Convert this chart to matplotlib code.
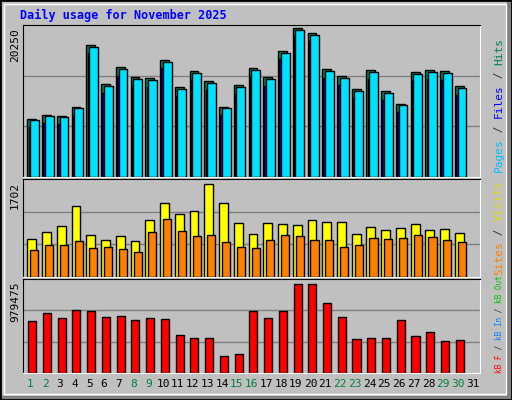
import matplotlib
matplotlib.use("Agg")
import matplotlib.pyplot as plt
from matplotlib.patches import Rectangle
import numpy as np

days = np.arange(1, 31)
hits = [7778, 8314, 8180, 9387, 17567, 12337, 14617, 13276, 13142, 15556,
        11935, 14081, 12740, 9387, 12203, 14483, 13276, 16763, 19847, 19176,
        14349, 13410, 11667, 14215, 11399, 9789, 13946, 14215, 14081, 12069]
files = [h - 1100 for h in hits]
pages = [h - 250 for h in hits]
visits = [660, 782, 886, 1233, 730, 643, 712, 625, 990, 1285, 1094, 1146, 1615, 1285, 938,
          747, 938, 921, 903, 990, 955, 955, 747, 868, 816, 851, 921, 816, 834, 764]
sites = [469, 556, 556, 625, 504, 521, 486, 434, 782, 1007, 799, 712, 729, 608, 521,
         504, 643, 729, 712, 643, 643, 521, 556, 677, 660, 677, 729, 695, 643, 608]
kbytes = [541840, 625200, 573100, 656460, 646040, 583520, 593940, 552260, 573100, 562680,
          395960, 364700, 364700, 177140, 197980, 646040, 573100, 646040, 927380, 927380,
          729400, 583520, 354280, 364700, 364700, 552260, 385540, 427220, 333440, 343860]
weekend = [1, 2, 8, 9, 15, 16, 22, 23, 29, 30]

W, H = 512, 400
BG = "#c0c0c0"
MONO = "DejaVu Sans Mono"
fig = plt.figure(figsize=(W / 100, H / 100), dpi=100, facecolor=BG)

# outer bevel
fig.patches.append(Rectangle((W - 5, 0), 5, H, transform=None, fc="#808080", ec="none"))
fig.patches.append(Rectangle((0, 0), W, 4, transform=None, fc="#808080", ec="none"))
fig.patches.append(Rectangle((0, 0), 1, 1, transform=fig.transFigure, fill=False, ec="black", lw=2))
fig.patches.append(Rectangle((4 / W, 6 / H), (W - 10) / W, (H - 10) / H, transform=fig.transFigure,
                             fill=False, ec="white", lw=1))


def panel(top, bottom, ymax):
    ax = fig.add_axes([23 / W, 1 - bottom / H, 457 / W, (bottom - top) / H])
    ax.set_facecolor(BG)
    ax.set_xlim(0.5, 31.5)
    ax.set_ylim(0, ymax)
    ax.set_xticks([])
    ax.set_yticks([])
    for y in (ymax / 3, 2 * ymax / 3):
        ax.axhline(y, color="#808080", lw=1, zorder=0)
    ax.spines["top"].set_color("black")
    ax.spines["left"].set_color("black")
    ax.spines["bottom"].set_color("white")
    ax.spines["right"].set_color("white")
    return ax


ax1 = panel(25, 177, 20250)
ax1.bar(days - 0.2, hits, width=0.6, align="edge", color="#00805c", ec="black", lw=1, zorder=2)
ax1.bar(days - 0.12, files, width=0.55, align="edge", color="#0000ff", ec="black", lw=1, zorder=3)
ax1.bar(days - 0.02, pages, width=0.6, align="edge", color="#00e0ff", ec="black", lw=1, zorder=4)

ax2 = panel(179, 277, 1702)
ax2.bar(days - 0.2, visits, width=0.6, align="edge", color="#ffff00", ec="black", lw=1, zorder=2)
ax2.bar(days - 0.0, sites, width=0.55, align="edge", color="#ff8000", ec="black", lw=1, zorder=3)

ax3 = panel(279, 373, 979475)
ax3.bar(days - 0.15, kbytes, width=0.55, align="edge", color="#ff0000", ec="black", lw=1, zorder=2)

for d in range(1, 32):
    ax3.text(d, -0.06, str(d), transform=ax3.get_xaxis_transform(), ha="center", va="top",
             fontsize=8, family=MONO, color="#008040" if d in weekend else "black")

fig.text(20 / W, 1 - 15 / H, "Daily usage for November 2025", fontsize=8.5, family=MONO,
         weight="bold", color="#0000ff", va="center")

# left max labels
for lab, top in (("20250", 28), ("1702", 182), ("979475", 281)):
    fig.text(15 / W, 1 - top / H, lab, rotation=90, ha="center", va="top", fontsize=8, family=MONO)


def right_label(parts, bottom_px, size):
    y = bottom_px
    step = size * 0.602 * 100 / 72
    for txt, col in parts:
        fig.text(499 / W, 1 - y / H, txt, rotation=90, ha="center", va="bottom",
                 fontsize=size, family=MONO, color=col)
        y -= len(txt) * step


right_label([("Pages", "#00c0ff"), (" / ", "#303030"), ("Files", "#0000ff"),
             (" / ", "#303030"), ("Hits", "#00805c")], 172, 8)
right_label([("Sites", "#ff8000"), (" / ", "#303030"), ("Visits", "#e0e000")], 275, 8)
right_label([("kB F", "#ff0000"), (" / ", "#303030"), ("kB In", "#0080ff"),
             (" / ", "#303030"), ("kB Out", "#00c000")], 373, 5.6)

fig.savefig("out.png", dpi=100, facecolor=BG)
